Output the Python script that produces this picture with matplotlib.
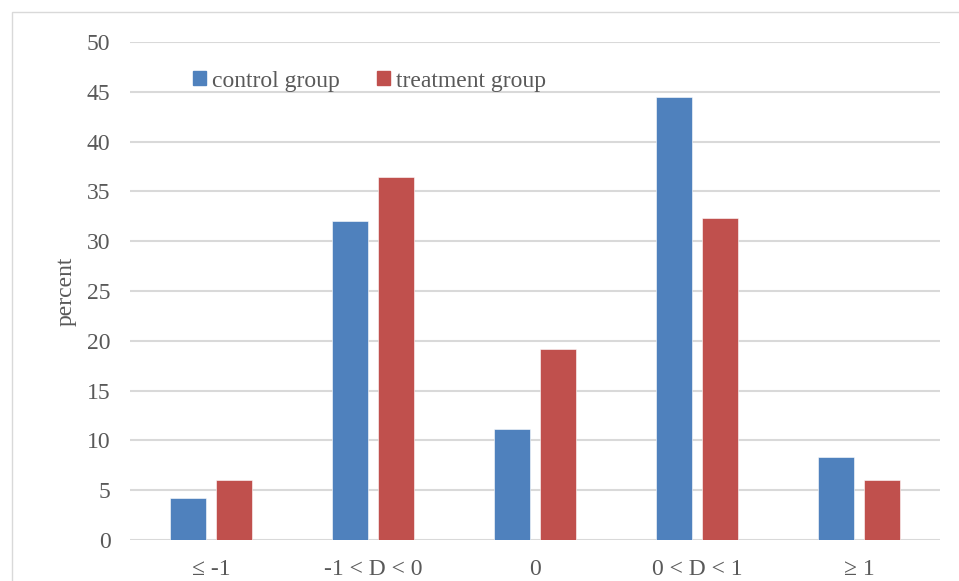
import numpy as np
import matplotlib
matplotlib.use('Agg')
import matplotlib.pyplot as plt
from matplotlib.patches import Rectangle, Patch

categories = ['≤ -1', '-1 < D < 0', '0', '0 < D < 1', '≥ 1']
control = [4.2, 32.0, 11.1, 44.5, 8.3]
treatment = [6.0, 36.4, 19.2, 32.3, 6.0]
series_names = ['control group', 'treatment group']
yticks = list(range(0, 51, 5))

BLUE = '#4f81bd'; RED = '#c0504d'; GRID = '#d9d9d9'; TXT = '#595959'
plt.rcParams['font.family'] = ['Liberation Serif', 'DejaVu Serif']

W, H = 959, 581
fig = plt.figure(figsize=(W/100, H/100), dpi=100)
# outer chart border
fig.patches.append(Rectangle((12/W, -0.1), 1.2, 1 - 12/H + 0.1, transform=fig.transFigure,
                             fill=False, edgecolor=GRID, linewidth=1))
ax = fig.add_axes([130/W, 1 - 540/H, 810/W, (540 - 42)/H])

x = np.arange(len(categories)); w = 0.222; off = 0.14
ax.bar(x - off, control, w, color=BLUE, edgecolor='white', linewidth=0.4, zorder=3)
ax.bar(x + off, treatment, w, color=RED, edgecolor='white', linewidth=0.4, zorder=3)

ax.set_xlim(-0.5, len(categories) - 0.5)
ax.set_ylim(0, 50)
ax.set_yticks(yticks)
ax.yaxis.grid(True, color=GRID, linewidth=1.5, zorder=0)
ax.set_axisbelow(True)
for s in ax.spines.values(): s.set_visible(False)
ax.tick_params(length=0, labelsize=17, colors=TXT)
ax.set_xticks(x, categories)
ax.tick_params(axis='x', pad=14)
ax.tick_params(axis='y', pad=14)
ax.set_ylabel('percent', fontsize=17, color=TXT, labelpad=7.5)

handles = [Patch(color=BLUE), Patch(color=RED)]
ax.legend(handles, series_names, loc='center left', bbox_to_anchor=(193/W, 1 - 81/H),
          bbox_transform=fig.transFigure, ncol=2, frameon=False, fontsize=17,
          handlelength=0.55, handleheight=0.55, handletextpad=0.25, columnspacing=1.6,
          labelcolor=TXT, borderaxespad=0, borderpad=0)

fig.savefig('out.png', dpi=100)
